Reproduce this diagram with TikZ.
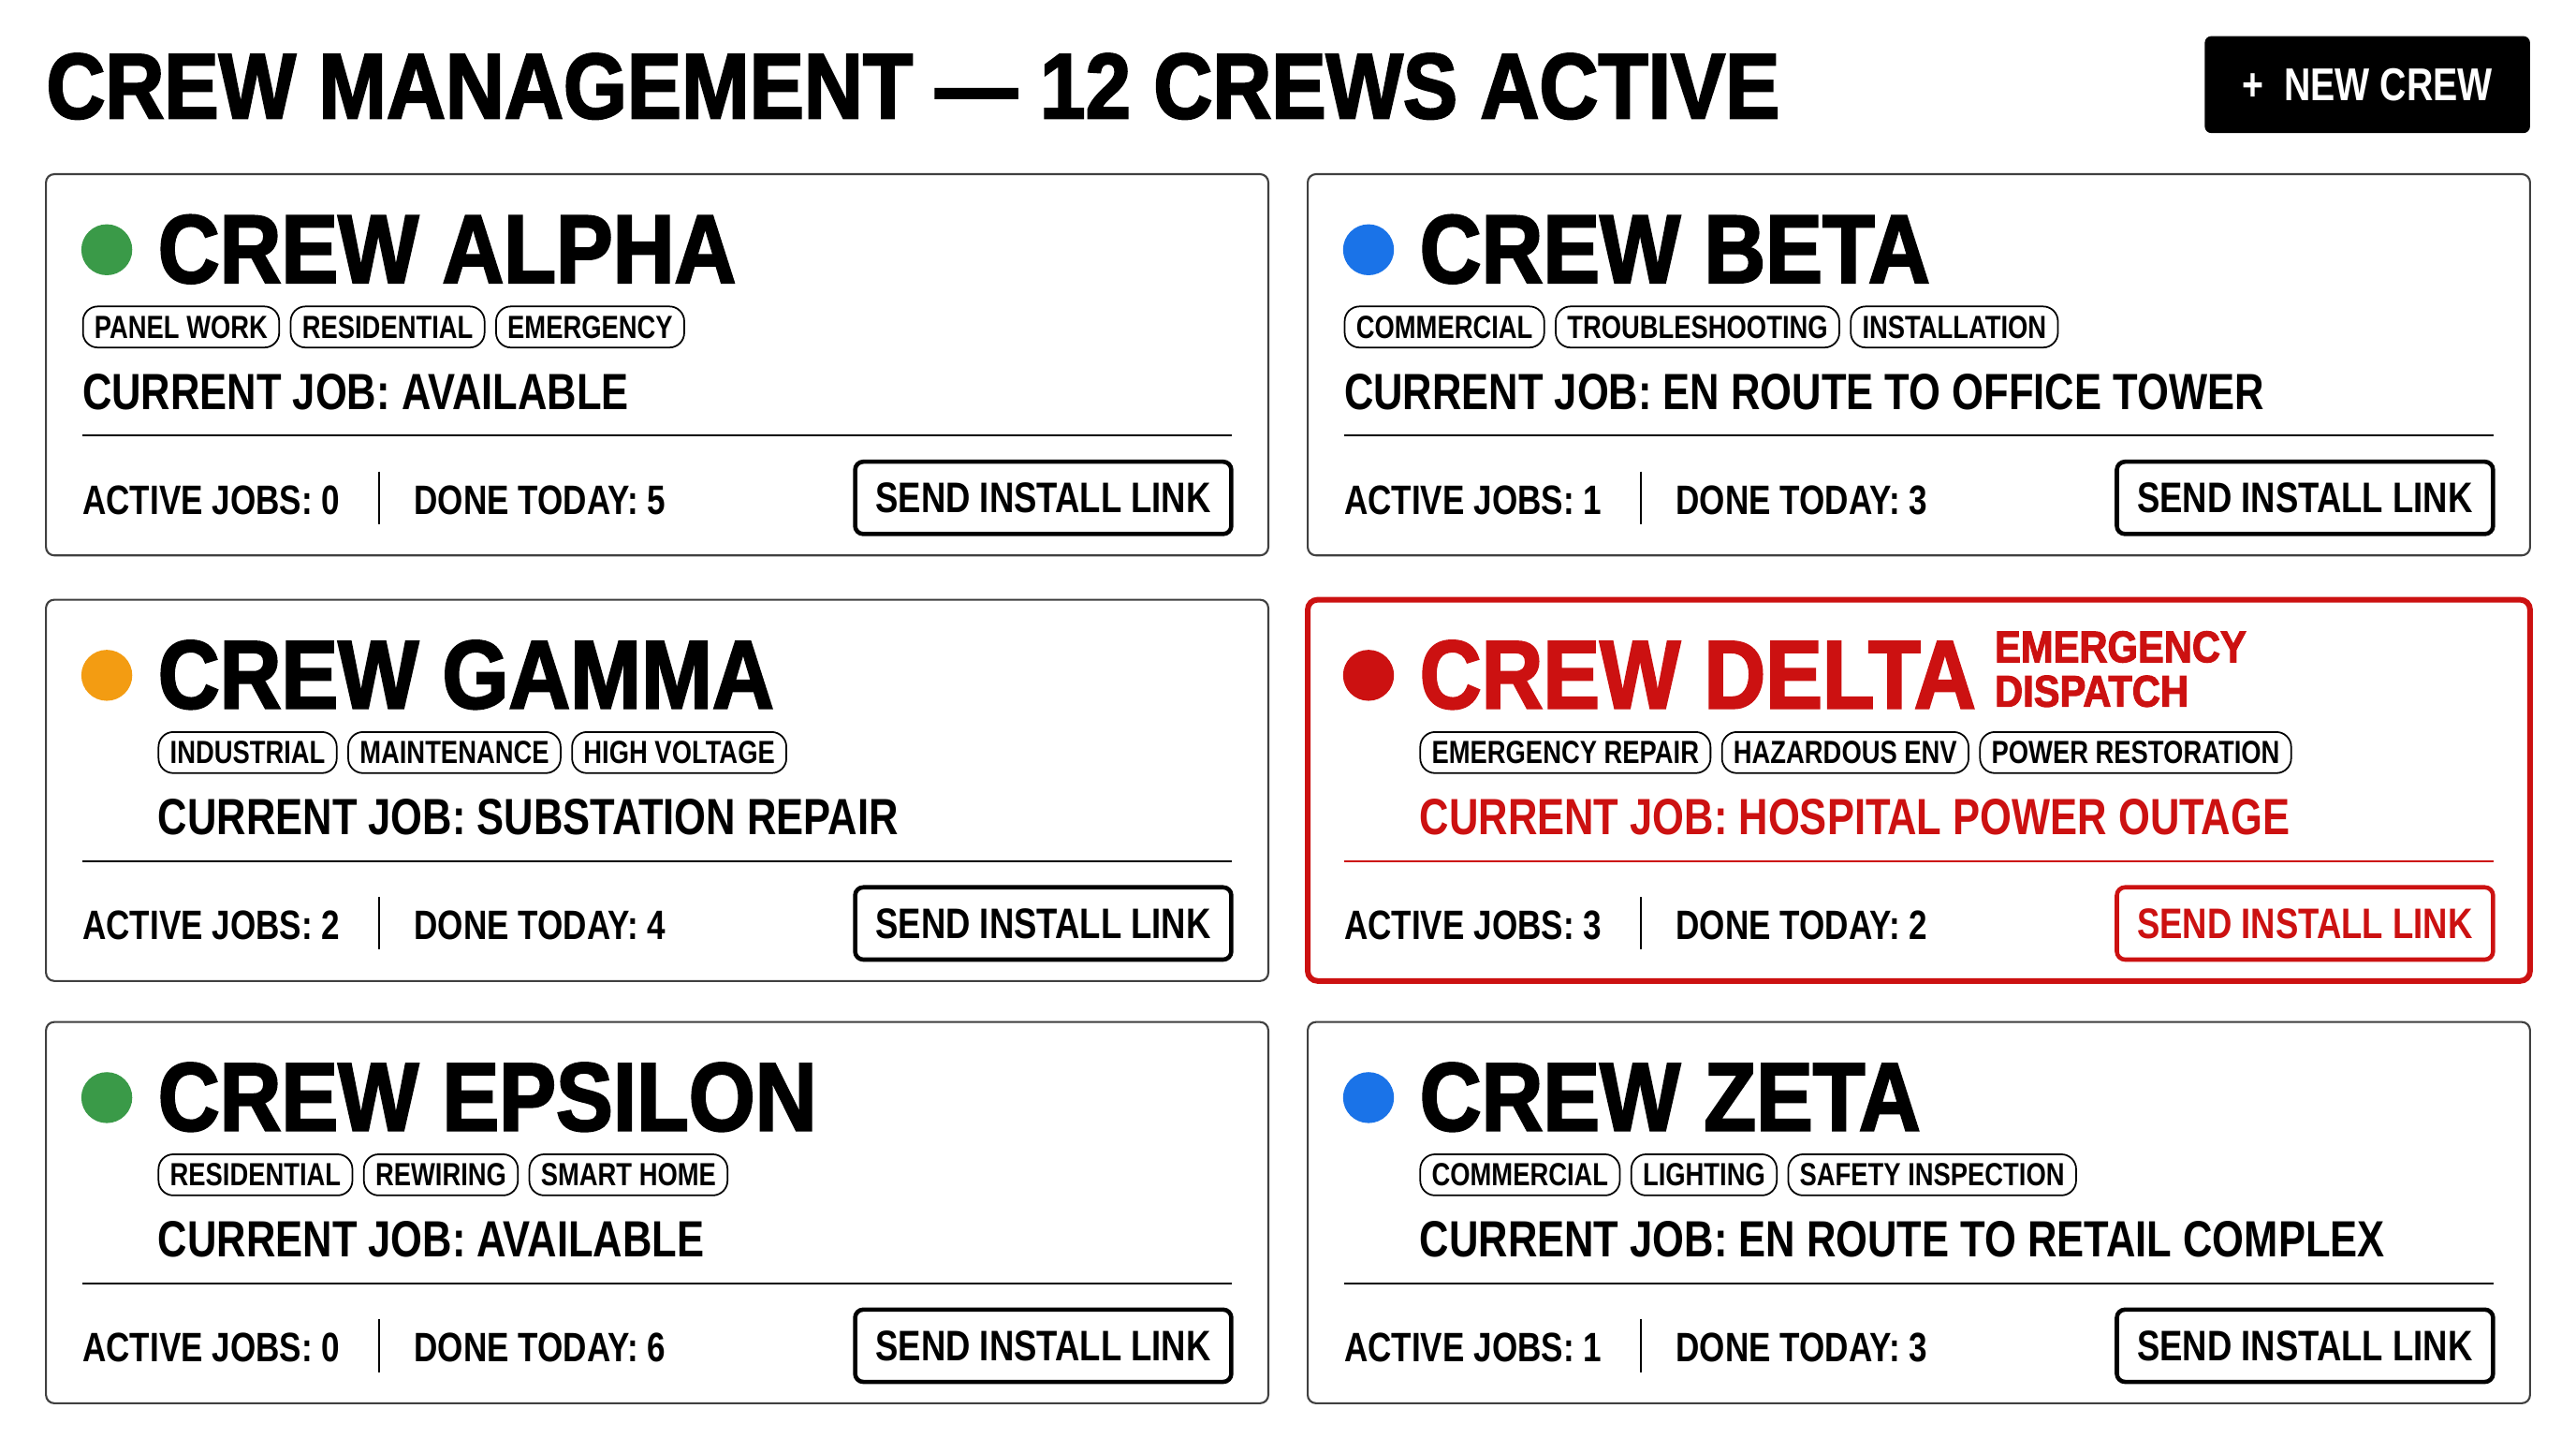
\documentclass[tikz,border=0pt]{standalone}
\usepackage{fontspec}
\setmainfont{Liberation Sans}[FakeStretch=0.80]
\newfontfamily\heavy{Liberation Sans}[FakeStretch=0.88, FakeBold=2.2]
\usetikzlibrary{positioning}
\definecolor{okgreen}{HTML}{3A9A48}
\definecolor{enblue}{HTML}{1A73E8}
\definecolor{busyorange}{HTML}{F39C12}
\definecolor{alertred}{HTML}{CC1111}
\newcommand\fs[1]{\fontsize{#1}{#1}\selectfont\bfseries}
\newcommand\hs[1]{\heavy\fontsize{#1}{#1}\selectfont\bfseries}
\tikzset{
  card/.style={draw=black!75, line width=1.2pt, rounded corners=5pt},
  tag/.style={draw=black, text=black, line width=1pt, rounded corners=9pt, minimum height=25pt,
    inner xsep=7pt, inner ysep=0pt, font=\fs{19.5}},
  btn/.style={draw, line width=2.6pt, rounded corners=5pt, minimum width=229pt,
    minimum height=44pt, font=\fs{26}},
  txt/.style={anchor=base west, inner sep=0pt},
}
% #1 shift, #2 dot colour, #3 name, #4 indent, #5 tags, #6 job, #7 active, #8 done, #9 accent
\newcommand\tagrow[3]{%
  \node[tag, anchor=west] (ta) at (tagstart) {#1};
  \node[tag, right=6pt of ta] (tb) {#2};
  \node[tag, right=6pt of tb] (tc) {#3};}
\newcommand\crewcard[9]{%
  \begin{scope}[shift={#1}, color=#9]
    \draw[card] (0,0) rectangle (744,232);
    \node[circle, fill=#2, minimum size=31pt, inner sep=0pt] (dot) at (37,46) {};
    \node[txt, font=\hs{59}] (name) at (68,66) {#3};
    \coordinate (tagstart) at (#4,93);
    \tagrow#5
    \node[txt, font=\fs{31}] (job) at (#4,143) {#6};
    \draw[line width=1.2pt] (22,159) -- (722,159);
    \node[txt, font=\fs{25}, text=black] (act) at (22,207) {ACTIVE JOBS: #7};
    \draw[line width=1.2pt, black] (203,181) -- (203,213);
    \node[txt, font=\fs{25}, text=black] (done) at (224,207) {DONE TODAY: #8};
    \node[btn] (send) at (607,197) {SEND INSTALL LINK};
  \end{scope}}
\begin{document}
\begin{tikzpicture}[x=1pt, y=-1pt]
\useasboundingbox[fill=white] (0,0) rectangle (1568,875);
\node[txt, font=\hs{56.5}] (title) at (28,72) {CREW MANAGEMENT \textemdash{} 12 CREWS ACTIVE};
\node[fill=black, rounded corners=4pt, minimum width=198pt, minimum height=59pt,
  text=white, font=\fs{28}] (newcrew) at (1441,51.5) {+\ \ NEW CREW};
\crewcard{(28,106)}{okgreen}{CREW ALPHA}{22}{{PANEL WORK}{RESIDENTIAL}{EMERGENCY}}{CURRENT JOB: AVAILABLE}{0}{5}{black}
\crewcard{(796,106)}{enblue}{CREW BETA}{22}{{COMMERCIAL}{TROUBLESHOOTING}{INSTALLATION}}{CURRENT JOB: EN ROUTE TO OFFICE TOWER}{1}{3}{black}
\crewcard{(28,365)}{busyorange}{CREW GAMMA}{68}{{INDUSTRIAL}{MAINTENANCE}{HIGH VOLTAGE}}{CURRENT JOB: SUBSTATION REPAIR}{2}{4}{black}
\crewcard{(796,365)}{alertred}{CREW DELTA}{68}{{EMERGENCY REPAIR}{HAZARDOUS ENV}{POWER RESTORATION}}{CURRENT JOB: HOSPITAL POWER OUTAGE}{3}{2}{alertred}
\draw[alertred, line width=3.4pt, rounded corners=6pt] (796,365) rectangle (1540,597);
\node[txt, font=\hs{27}, text=alertred] (emerg) at (1214,403) {EMERGENCY};
\node[txt, font=\hs{27}, text=alertred] (disp) at (1214,430) {DISPATCH};
\crewcard{(28,622)}{okgreen}{CREW EPSILON}{68}{{RESIDENTIAL}{REWIRING}{SMART HOME}}{CURRENT JOB: AVAILABLE}{0}{6}{black}
\crewcard{(796,622)}{enblue}{CREW ZETA}{68}{{COMMERCIAL}{LIGHTING}{SAFETY INSPECTION}}{CURRENT JOB: EN ROUTE TO RETAIL COMPLEX}{1}{3}{black}
\end{tikzpicture}
\end{document}
